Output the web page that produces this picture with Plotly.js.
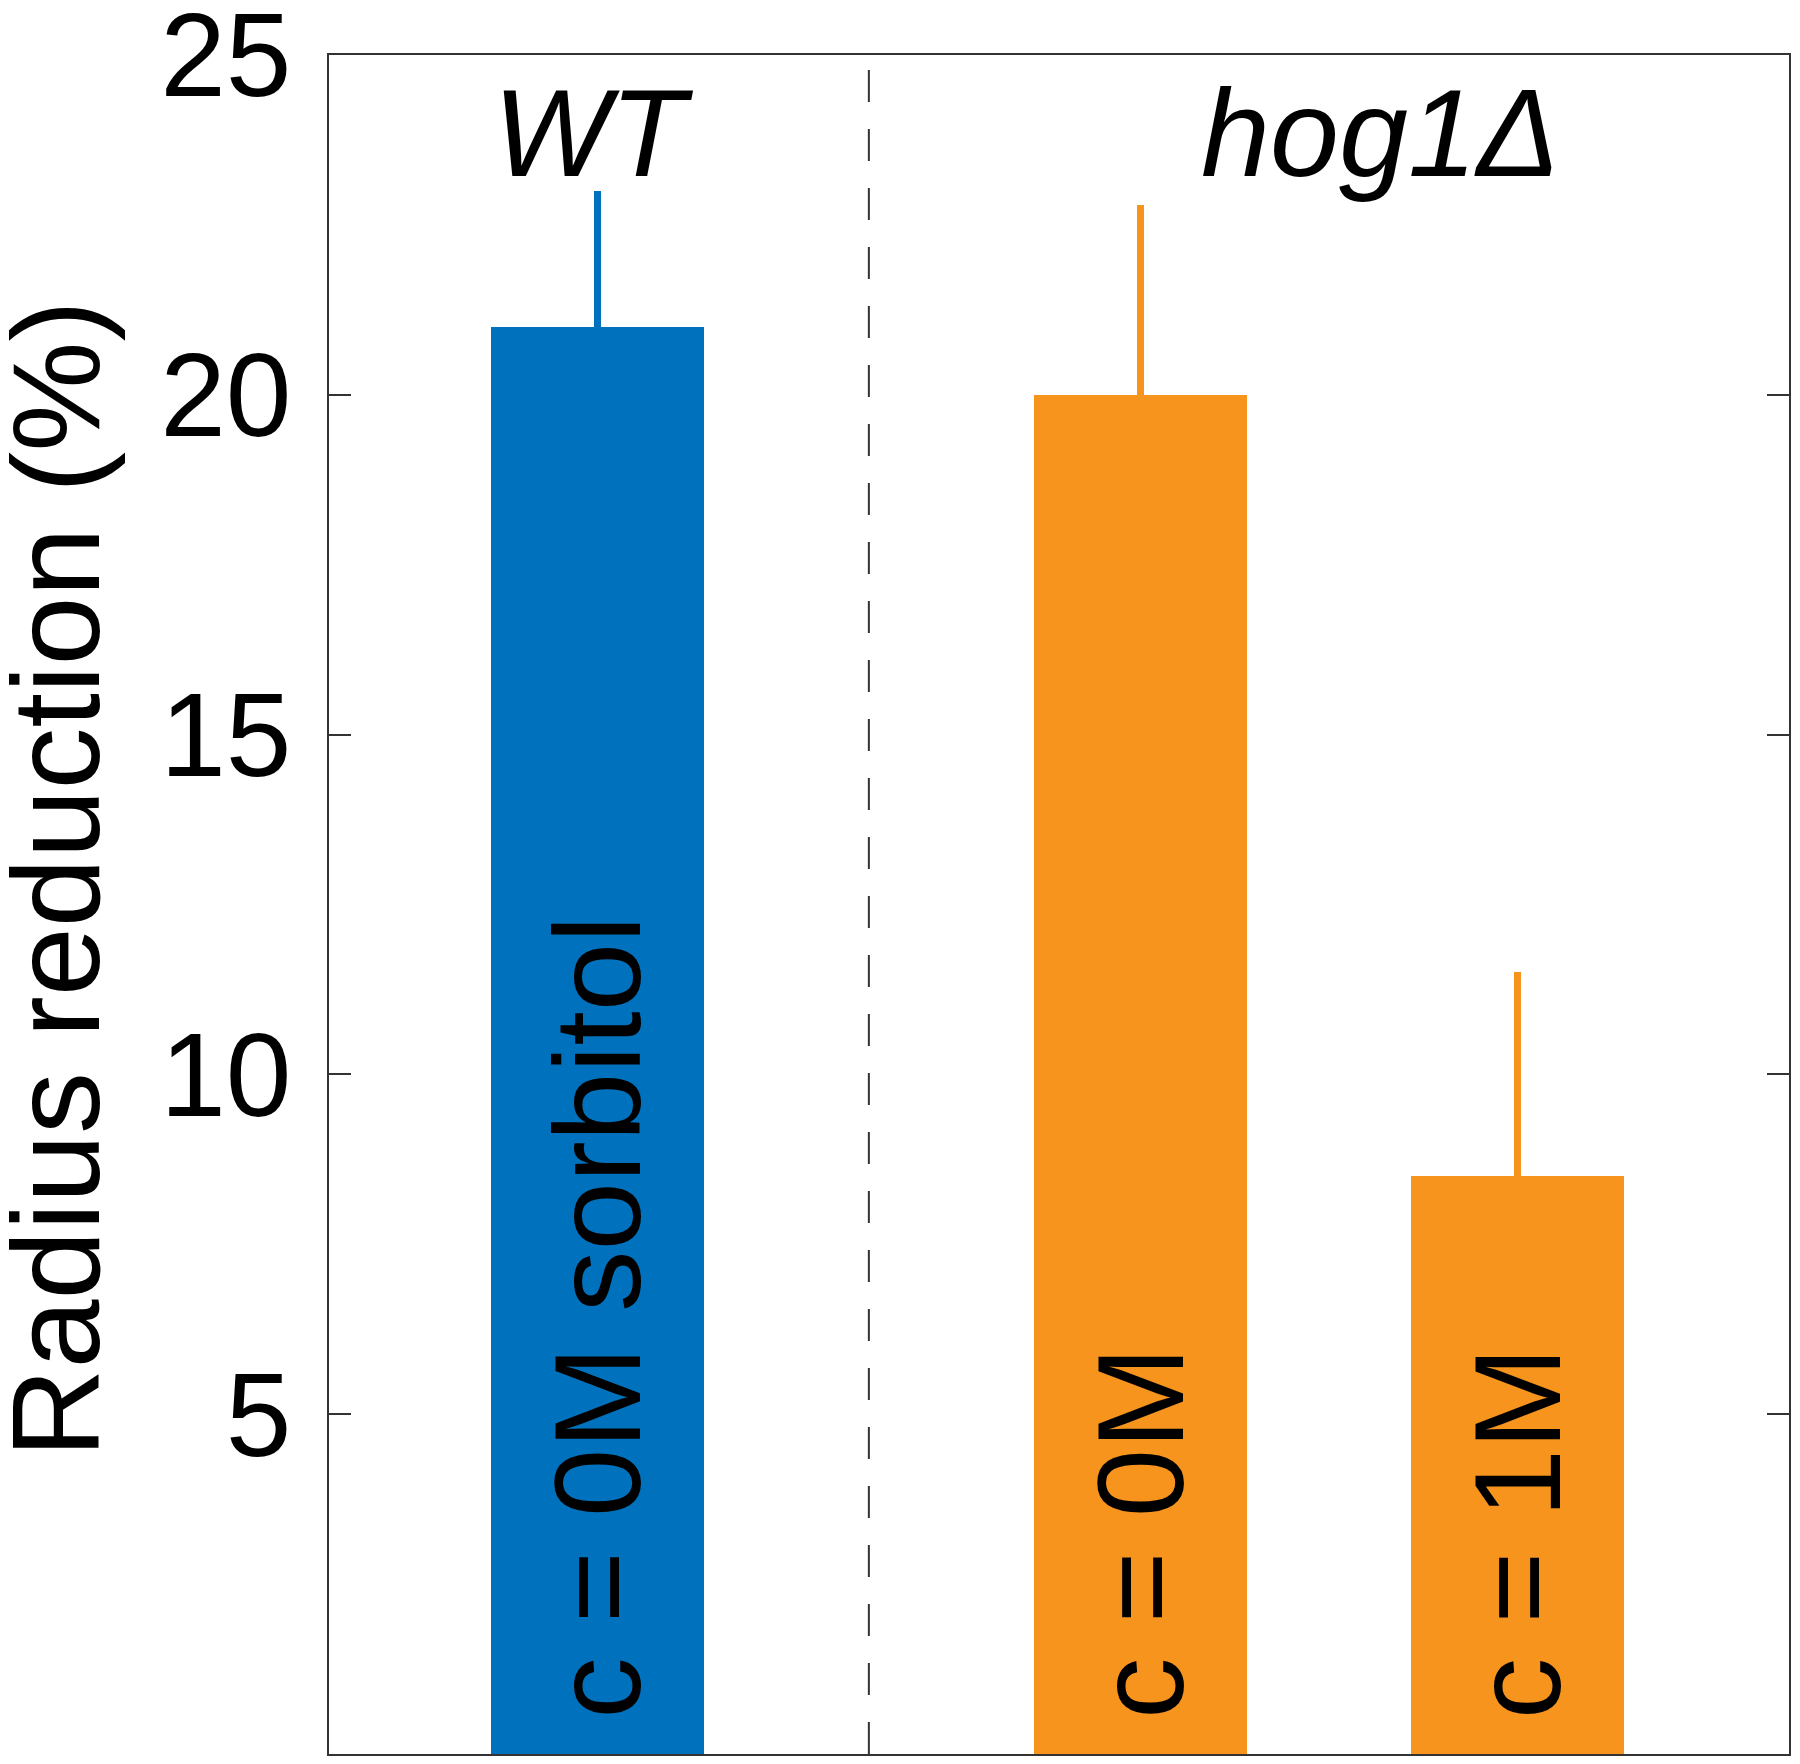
<!DOCTYPE html>
<html>
<head>
<meta charset="utf-8">
<script src="https://cdn.plot.ly/plotly-3.0.1.min.js"></script>
<style>html,body{margin:0;padding:0;background:#fff;}#chart{width:1800px;height:1764px;}</style>
</head>
<body>
<div id="chart"></div>
<script>
// Data
var groups = ["WT", "hog1Δ", "hog1Δ"];
var barLabels = ["c = 0M sorbitol", "c = 0M", "c = 1M"];
var xPos = [1, 2.44, 3.44];
var values = [21.0, 20.0, 8.5];
var errors = [2.0, 2.8, 3.0];
var colors = ["#0072BD", "#F7941E", "#F7941E"];
var groupNames = ["WT", "hog1Δ"];
var groupCenters = [0.99, 3.075];
var yTicks = [5, 10, 15, 20, 25];
var yTitle = "Radius reduction (%)";

var FONT = "Liberation Sans, Arial, Helvetica, sans-serif";

var traces = xPos.map(function (x, i) {
  return {
    type: "bar",
    x: [x],
    y: [values[i]],
    width: 0.565,
    marker: { color: colors[i], line: { width: 0 } },
    error_y: {
      type: "data",
      symmetric: false,
      array: [errors[i]],
      arrayminus: [0],
      color: colors[i],
      thickness: 7,
      width: 0
    },
    showlegend: false,
    hoverinfo: "skip"
  };
});

var annotations = [];
barLabels.forEach(function (t, i) {
  annotations.push({
    x: xPos[i], y: 0.5, xref: "x", yref: "y",
    text: t, textangle: -90, showarrow: false,
    xanchor: "center", yanchor: "bottom", borderpad: 0,
    font: { family: FONT, size: 123, color: "#000" }
  });
});
groupNames.forEach(function (g, i) {
  annotations.push({
    x: groupCenters[i], y: 23.85, xref: "x", yref: "y",
    text: "<i>" + g + "</i>", showarrow: false,
    xanchor: "center", yanchor: "middle",
    font: { family: FONT, size: 124, color: "#000" }
  });
});
annotations.push({
  x: -0.187, y: 0.515, xref: "paper", yref: "paper",
  text: yTitle, textangle: -90, showarrow: false,
  xanchor: "center", yanchor: "middle",
  font: { family: FONT, size: 124, color: "#000" }
});

var layout = {
  width: 1800, height: 1764,
  margin: { l: 329, r: 11, t: 55, b: 10 },
  paper_bgcolor: "#fff", plot_bgcolor: "#fff",
  bargap: 0,
  xaxis: {
    range: [0.289, 4.159],
    showgrid: false, zeroline: false,
    showline: true, mirror: true, linecolor: "#333", linewidth: 2,
    ticks: "", showticklabels: false
  },
  yaxis: {
    range: [0, 25],
    tickvals: yTicks,
    ticktext: yTicks.map(String),
    showgrid: false, zeroline: false,
    showline: true, mirror: "ticks", linecolor: "#333", linewidth: 2,
    ticks: "inside", ticklen: 22, tickwidth: 2, tickcolor: "#333",
    ticklabelstandoff: 12,
    ticklabeloverflow: "allow",
    tickfont: { family: FONT, size: 118, color: "#000" }
  },
  shapes: [{
    type: "line", xref: "x", yref: "paper",
    x0: (xPos[0] + xPos[1]) / 2, x1: (xPos[0] + xPos[1]) / 2,
    y0: 0, y1: 1,
    line: { color: "#333", width: 2, dash: "32px,27px" }
  }],
  annotations: annotations
};

Plotly.newPlot("chart", traces, layout, { staticPlot: true, displayModeBar: false });
</script>
</body>
</html>
